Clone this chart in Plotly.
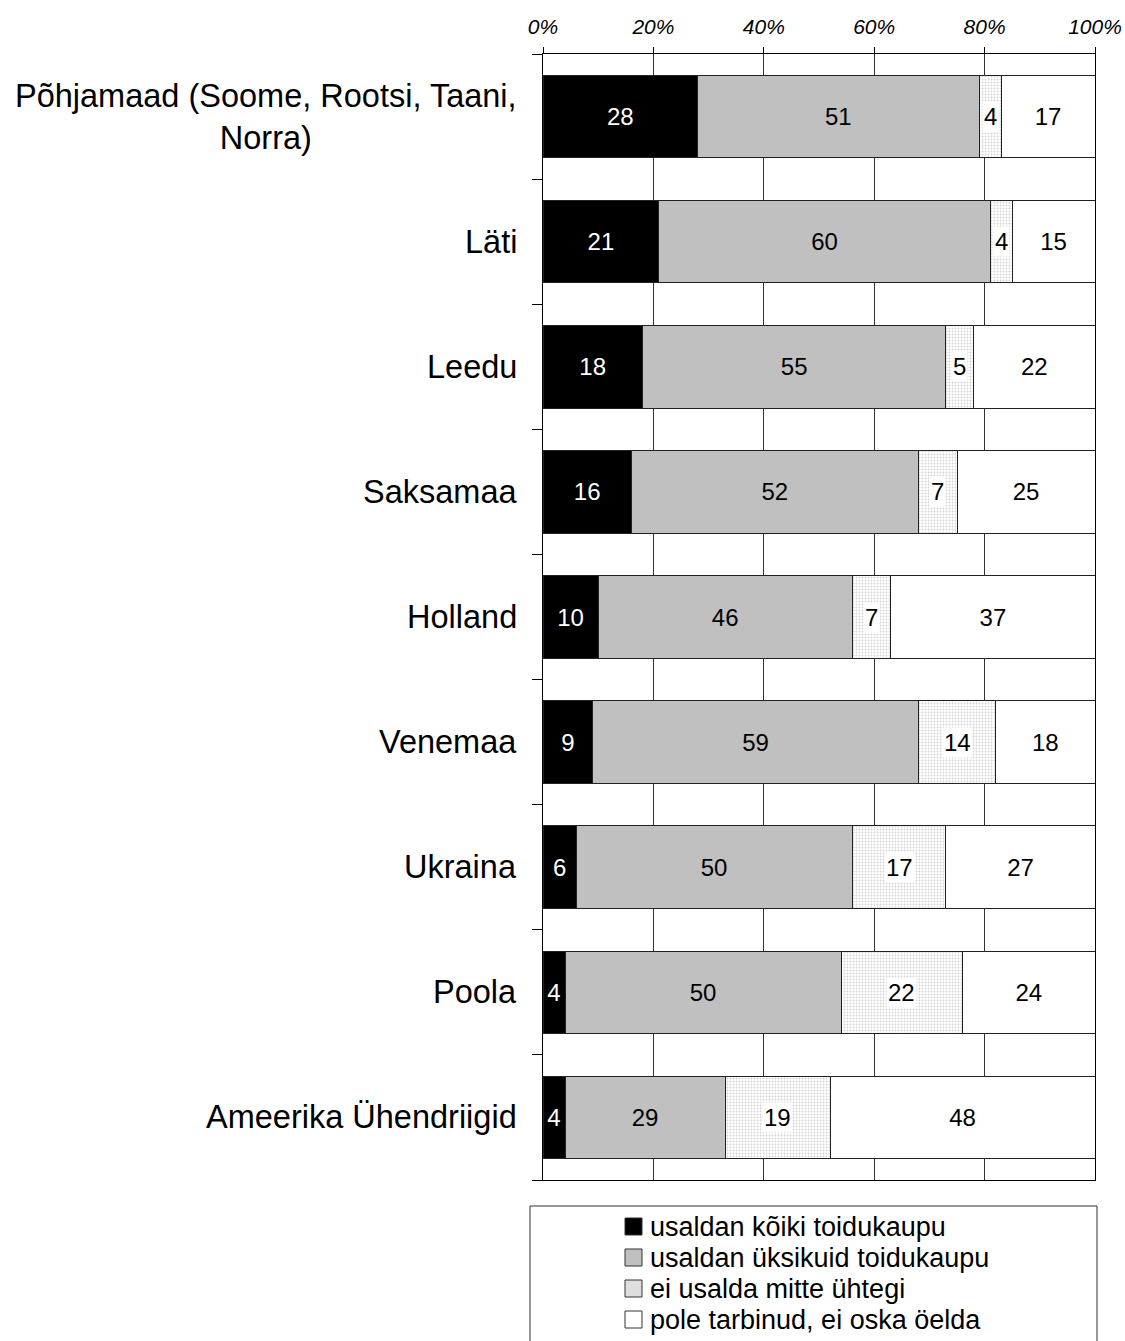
import plotly.graph_objects as go

# Survey: trust in food products by country of origin (%)
countries = [
    "Põhjamaad (Soome, Rootsi, Taani,<br>Norra)",
    "Läti",
    "Leedu",
    "Saksamaa",
    "Holland",
    "Venemaa",
    "Ukraina",
    "Poola",
    "Ameerika Ühendriigid",
]
trust_all = [28, 21, 18, 16, 10, 9, 6, 4, 4]
trust_some = [51, 60, 55, 52, 46, 59, 50, 50, 29]
trust_none = [4, 4, 5, 7, 7, 14, 17, 22, 19]
no_answer = [17, 15, 22, 25, 37, 18, 27, 24, 48]

series_names = [
    "usaldan kõiki toidukaupu",
    "usaldan üksikuid toidukaupu",
    "ei usalda mitte ühtegi",
    "pole tarbinud, ei oska öelda",
]
x_ticks = [0, 20, 40, 60, 80, 100]
x_ticktext = ["0%", "20%", "40%", "60%", "80%", "100%"]

FONT = "Liberation Sans, Arial, sans-serif"
W, H = 1125, 1341
M = dict(l=543, r=30, t=54, b=161)
PW = W - M["l"] - M["r"]
PH = H - M["t"] - M["b"]


def px_x(x):
    """pixel column -> paper x"""
    return (x - M["l"]) / PW


def px_y(y):
    """pixel row -> paper y"""
    return (H - M["b"] - y) / PH


pos = list(range(len(countries)))

fig = go.Figure()

outline = dict(color="#222222", width=1)
common = dict(orientation="h", width=0.66, y=pos,
              textposition="inside", insidetextanchor="middle",
              textangle=0, constraintext="none", showlegend=False)
BAR_FS = 24

fig.add_trace(go.Bar(x=trust_all, name=series_names[0], text=trust_all,
                     marker=dict(color="black", line=outline),
                     insidetextfont=dict(color="white", size=BAR_FS, family=FONT),
                     **common))
fig.add_trace(go.Bar(x=trust_some, name=series_names[1], text=trust_some,
                     marker=dict(color="#C0C0C0", line=outline),
                     insidetextfont=dict(color="black", size=BAR_FS, family=FONT),
                     **common))
fig.add_trace(go.Bar(x=trust_none, name=series_names[2],
                     marker=dict(color="white", line=outline,
                                 pattern=dict(shape=".", fgcolor="#a8a8a8",
                                              bgcolor="white", size=3,
                                              solidity=0.3)),
                     **common))
fig.add_trace(go.Bar(x=no_answer, name=series_names[3], text=no_answer,
                     marker=dict(color="white", line=outline),
                     insidetextfont=dict(color="black", size=BAR_FS, family=FONT),
                     **common))

# labels for the dotted segment sit on a white box
for i in pos:
    left = trust_all[i] + trust_some[i]
    fig.add_annotation(x=left + trust_none[i] / 2, y=i, text=str(trust_none[i]),
                       showarrow=False, bgcolor="white", borderpad=1,
                       font=dict(size=BAR_FS, color="black", family=FONT))

# category labels, right-aligned against the axis, multi-line centred
for i, name in zip(pos, countries):
    fig.add_annotation(x=0, xref="paper", y=i, text=name, showarrow=False,
                       xanchor="right", align="center", xshift=-24,
                       font=dict(size=32.5, color="black", family=FONT))

# legend: framed box under the plot with square swatches
fig.add_shape(type="rect", xref="paper", yref="paper",
              x0=px_x(530), x1=px_x(1097), y0=px_y(1206), y1=px_y(1360),
              line=dict(color="#333333", width=1), fillcolor="rgba(0,0,0,0)")
swatch_fill = ["black", "#C0C0C0", "#dedede", "white"]
for k, (name, fill) in enumerate(zip(series_names, swatch_fill)):
    cy = 1226.5 + 31 * k
    fig.add_shape(type="rect", xref="paper", yref="paper",
                  x0=px_x(625), x1=px_x(642), y0=px_y(cy - 8.5), y1=px_y(cy + 8.5),
                  line=dict(color="#333333", width=1), fillcolor=fill)
    fig.add_annotation(x=px_x(648), y=px_y(cy), xref="paper", yref="paper",
                       text=name, showarrow=False, xanchor="left",
                       yanchor="middle",
                       font=dict(size=27, color="black", family=FONT))

fig.update_layout(
    barmode="stack",
    width=W, height=H,
    margin=dict(**M, autoexpand=False),
    plot_bgcolor="white", paper_bgcolor="white",
    font=dict(family=FONT, color="black"),
    showlegend=False,
    bargap=0.34,
)

fig.update_xaxes(
    side="top", range=[0, 100], tickvals=x_ticks, ticktext=x_ticktext,
    tickfont=dict(size=21, style="italic", family=FONT),
    ticks="outside", ticklen=6, tickcolor="black",
    showline=True, linecolor="black", linewidth=1, mirror=True,
    showgrid=True, gridcolor="#333333", gridwidth=1, zeroline=False,
    ticklabelstandoff=5,
)
fig.update_yaxes(
    range=[len(countries) - 0.5, -0.5],
    tickvals=pos, ticktext=["" for _ in pos], ticks="",
    showline=True, linecolor="black", linewidth=1, mirror=True,
    showgrid=False, zeroline=False,
    minor=dict(tickvals=[p - 0.5 for p in pos] + [len(pos) - 0.5],
               ticks="outside", ticklen=10, tickcolor="black", showgrid=False),
)

fig.write_html("out.html")
